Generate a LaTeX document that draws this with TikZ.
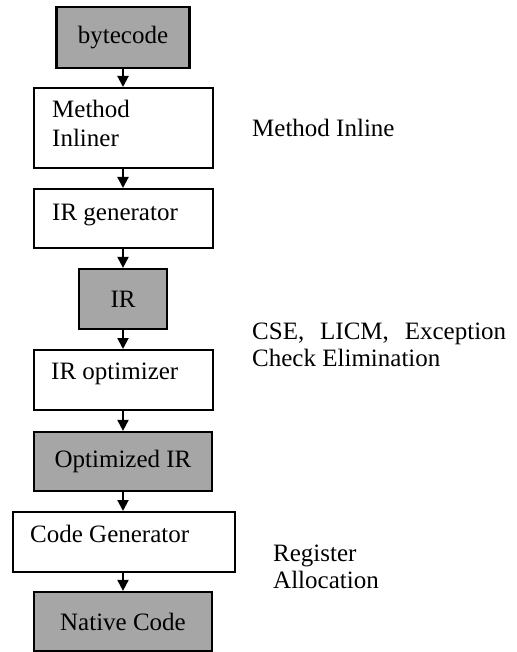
\documentclass[tikz,border=0pt]{standalone}
\usepackage{fontspec}
\setmainfont{Liberation Serif}
\usetikzlibrary{arrows.meta}
\begin{document}
\begin{tikzpicture}[x=1pt,y=-1pt,
  wbox/.style={draw, line width=2pt, fill=white, inner sep=0pt},
  gbox/.style={draw, line width=2.2pt, fill=black!35, inner sep=0pt, font=\fontsize{25}{29}\selectfont},
  txt/.style={anchor=base west, inner sep=0pt, font=\fontsize{25}{29}\selectfont},
  flow/.style={line width=2pt, -{Triangle[width=11pt,length=11pt]}}]
\useasboundingbox (0,0) rectangle (516,652);
% boxes
\node[gbox, minimum width=133pt, minimum height=61pt] (bytecode) at (123,37.5) {bytecode};
\node[wbox, minimum width=179pt, minimum height=80pt] (inliner) at (123,128) {};
\node[wbox, minimum width=179pt, minimum height=59pt] (irgen) at (123,218.5) {};
\node[gbox, minimum width=88pt, minimum height=60pt] (ir) at (123,299) {IR};
\node[wbox, minimum width=179pt, minimum height=60pt] (iropt) at (123,380) {};
\node[gbox, minimum width=178pt, minimum height=59pt] (optir) at (123,461.5) {Optimized IR};
\node[wbox, minimum width=222pt, minimum height=60pt] (codegen) at (124,542) {};
\node[gbox, minimum width=178pt, minimum height=59pt] (native) at (123,621.5) {Native Code};
% box texts
\node[txt] (t1) at (52,118) {Method};
\node[txt] (t2) at (52,147) {Inliner};
\node[txt] (t3) at (52,220) {IR generator};
\node[txt] (t4) at (51,379) {IR optimizer};
\node[txt] (t5) at (30,542) {Code Generator};
% side notes
\node[txt] (n1) at (252,137) {Method Inline};
\node[txt] (n2) at (252,339) {\makebox[254pt][s]{CSE, LICM, Exception}};
\node[txt] (n3) at (252,366) {Check Elimination};
\node[txt] (n4) at (273,561) {Register};
\node[txt] (n5) at (273,588) {Allocation};
% arrows
\draw[flow] (bytecode) -- (inliner);
\draw[flow] (inliner) -- (irgen);
\draw[flow] (irgen) -- (ir);
\draw[flow] (ir) -- (iropt);
\draw[flow] (iropt) -- (optir);
\draw[flow] (optir.south) -- (optir.south |- codegen.north);
\draw[flow] (codegen.south -| native.north) -- (native);
\end{tikzpicture}
\end{document}
